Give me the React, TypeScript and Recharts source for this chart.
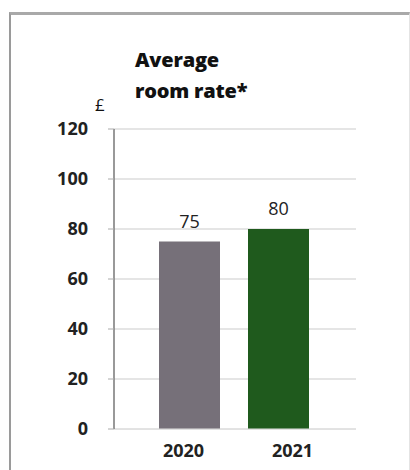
import { BarChart, Bar, XAxis, YAxis, CartesianGrid, Cell, LabelList } from 'recharts';

const years = ['2020', '2021'];
const roomRates = [75, 80];
const barColors = ['#767079', '#1f5a1d'];
const yTicks = [0, 20, 40, 60, 80, 100, 120];

const data = years.map((year, i) => ({ year, rate: roomRates[i] }));

const font = '"Open Sans", sans-serif';

// x labels sit a little off the bar centres in the original
const tickShift = [-6, 14];

function YearTick(props: any) {
  const { x, y, payload, index } = props;
  return (
    <text
      x={x + (tickShift[index] ?? 0)}
      y={y + 20}
      textAnchor="middle"
      fontFamily={font}
      fontWeight={700}
      fontSize={18}
      fill="#222"
    >
      {payload.value}
    </text>
  );
}

export default function App() {
  return (
    <div style={{ position: 'absolute', left: 0, top: 0, width: 410, height: 470, background: '#fff', overflow: 'hidden' }}>
      {/* frame */}
      <div
        style={{
          position: 'absolute',
          left: 9,
          top: 12,
          width: 398,
          height: 470,
          borderTop: '3px solid #a9a9a9',
          borderLeft: '2px solid #9a9a9a',
          borderRight: '1px solid #e4e4e4',
        }}
      />
      <div
        style={{
          position: 'absolute',
          left: 135,
          top: 44,
          fontFamily: font,
          fontWeight: 800,
          fontSize: 20,
          lineHeight: '31px',
          color: '#111',
          letterSpacing: -0.2,
        }}
      >
        Average
        <br />
        room rate*
      </div>
      <div style={{ position: 'absolute', left: 95, top: 93, fontFamily: font, fontSize: 17, color: '#111' }}>£</div>
      <BarChart
        width={410}
        height={470}
        data={data}
        margin={{ top: 129, right: 54, bottom: 11, left: 0 }}
        barSize={61}
        style={{ position: 'absolute', left: 0, top: 0 }}
      >
        <CartesianGrid vertical={false} stroke="#dcdcdc" strokeWidth={1.5} />
        <XAxis
          dataKey="year"
          height={30}
          padding={{ left: 31, right: 33 }}
          axisLine={{ stroke: '#e0e0e0' }}
          tickLine={false}
          tick={<YearTick />}
          interval={0}
        />
        <YAxis
          width={114}
          domain={[0, 120]}
          ticks={yTicks}
          interval={0}
          axisLine={{ stroke: '#777', strokeWidth: 1.5 }}
          tickLine={{ stroke: '#aaa' }}
          tickSize={6}
          tickMargin={20}
          tick={{ fontFamily: font, fontWeight: 700, fontSize: 18, fill: '#222' }}
        />
        <Bar dataKey="rate" isAnimationActive={false}>
          {data.map((d, i) => (
            <Cell key={d.year} fill={barColors[i]} />
          ))}
          <LabelList dataKey="rate" position="top" offset={14} fontFamily={font} fontSize={18} fill="#222" />
        </Bar>
      </BarChart>
    </div>
  );
}
